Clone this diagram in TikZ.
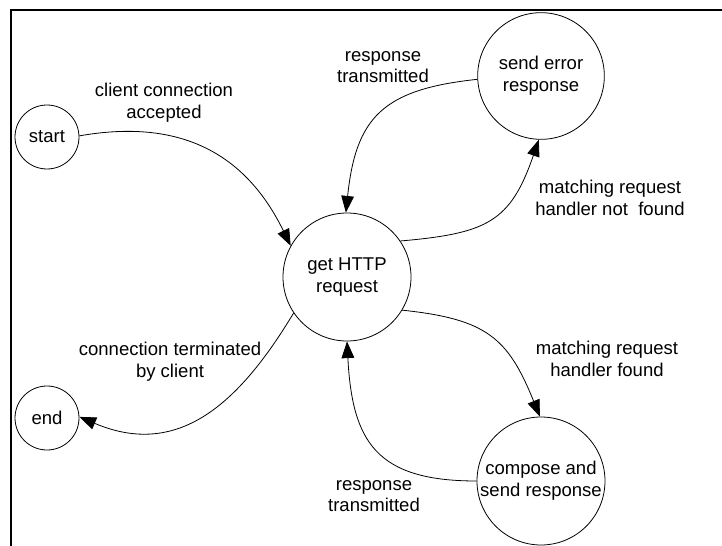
\documentclass[tikz,border=0pt]{standalone}
\usepackage{fontspec}
\setmainfont{Liberation Sans}
\usetikzlibrary{arrows.meta}
\newcommand\lblfont{\fontsize{13.9pt}{16.2pt}\selectfont}
\begin{document}
\begin{tikzpicture}[x=0.75pt,y=-0.75pt,
  state/.style={draw, circle, line width=0.6pt, inner sep=-10pt, align=center, font=\lblfont},
  lbl/.style={align=center, font=\lblfont, inner sep=0pt},
  edge/.style={line width=0.6pt, -{Triangle[length=12.5pt,width=9.5pt]}}]
\useasboundingbox (0,0) rectangle (722,546);
\draw[line width=1.5pt] (722,10) -- (11,10) -- (11,546);

\node[state, minimum size=48pt] (start) at (47,137) {start};
\node[state, minimum size=48pt] (end) at (47,418) {end};
\node[state, minimum size=96pt] (get) at (347,277) {get HTTP\\request};
\node[state, minimum size=95pt] (err) at (541,76) {send error\\response};
\node[state, minimum size=96pt] (comp) at (541,481) {compose and\\send response};

\draw[edge] (start.2) to[out=10,in=116,looseness=1.1] (get.151);
\draw[edge] (err.183) to[out=186,in=84,looseness=1.3] (get.91);
\draw[edge] (get.34) to[out=5,in=251,looseness=1.3] (err.268);
\draw[edge] (get.329) to[out=-6,in=112,looseness=1.25] (comp.91);
\draw[edge] (comp.180) to[out=180,in=-87,looseness=1.35] (get.270);
\draw[edge] (get.214) to[out=239,in=-23,looseness=1.15] (end.2);

\node[lbl] (l1) at (164,103) {client connection\\accepted};
\node[lbl] (l2) at (383,67) {response\\transmitted};
\node[lbl] (l3) at (610,198) {matching request\\handler not\ \ found};
\node[lbl] (l4) at (607,359) {matching request\\handler found};
\node[lbl] (l5) at (170,362) {connection terminated\\by client};
\node[lbl] (l6) at (374,496) {response\\transmitted};
\end{tikzpicture}
\end{document}
